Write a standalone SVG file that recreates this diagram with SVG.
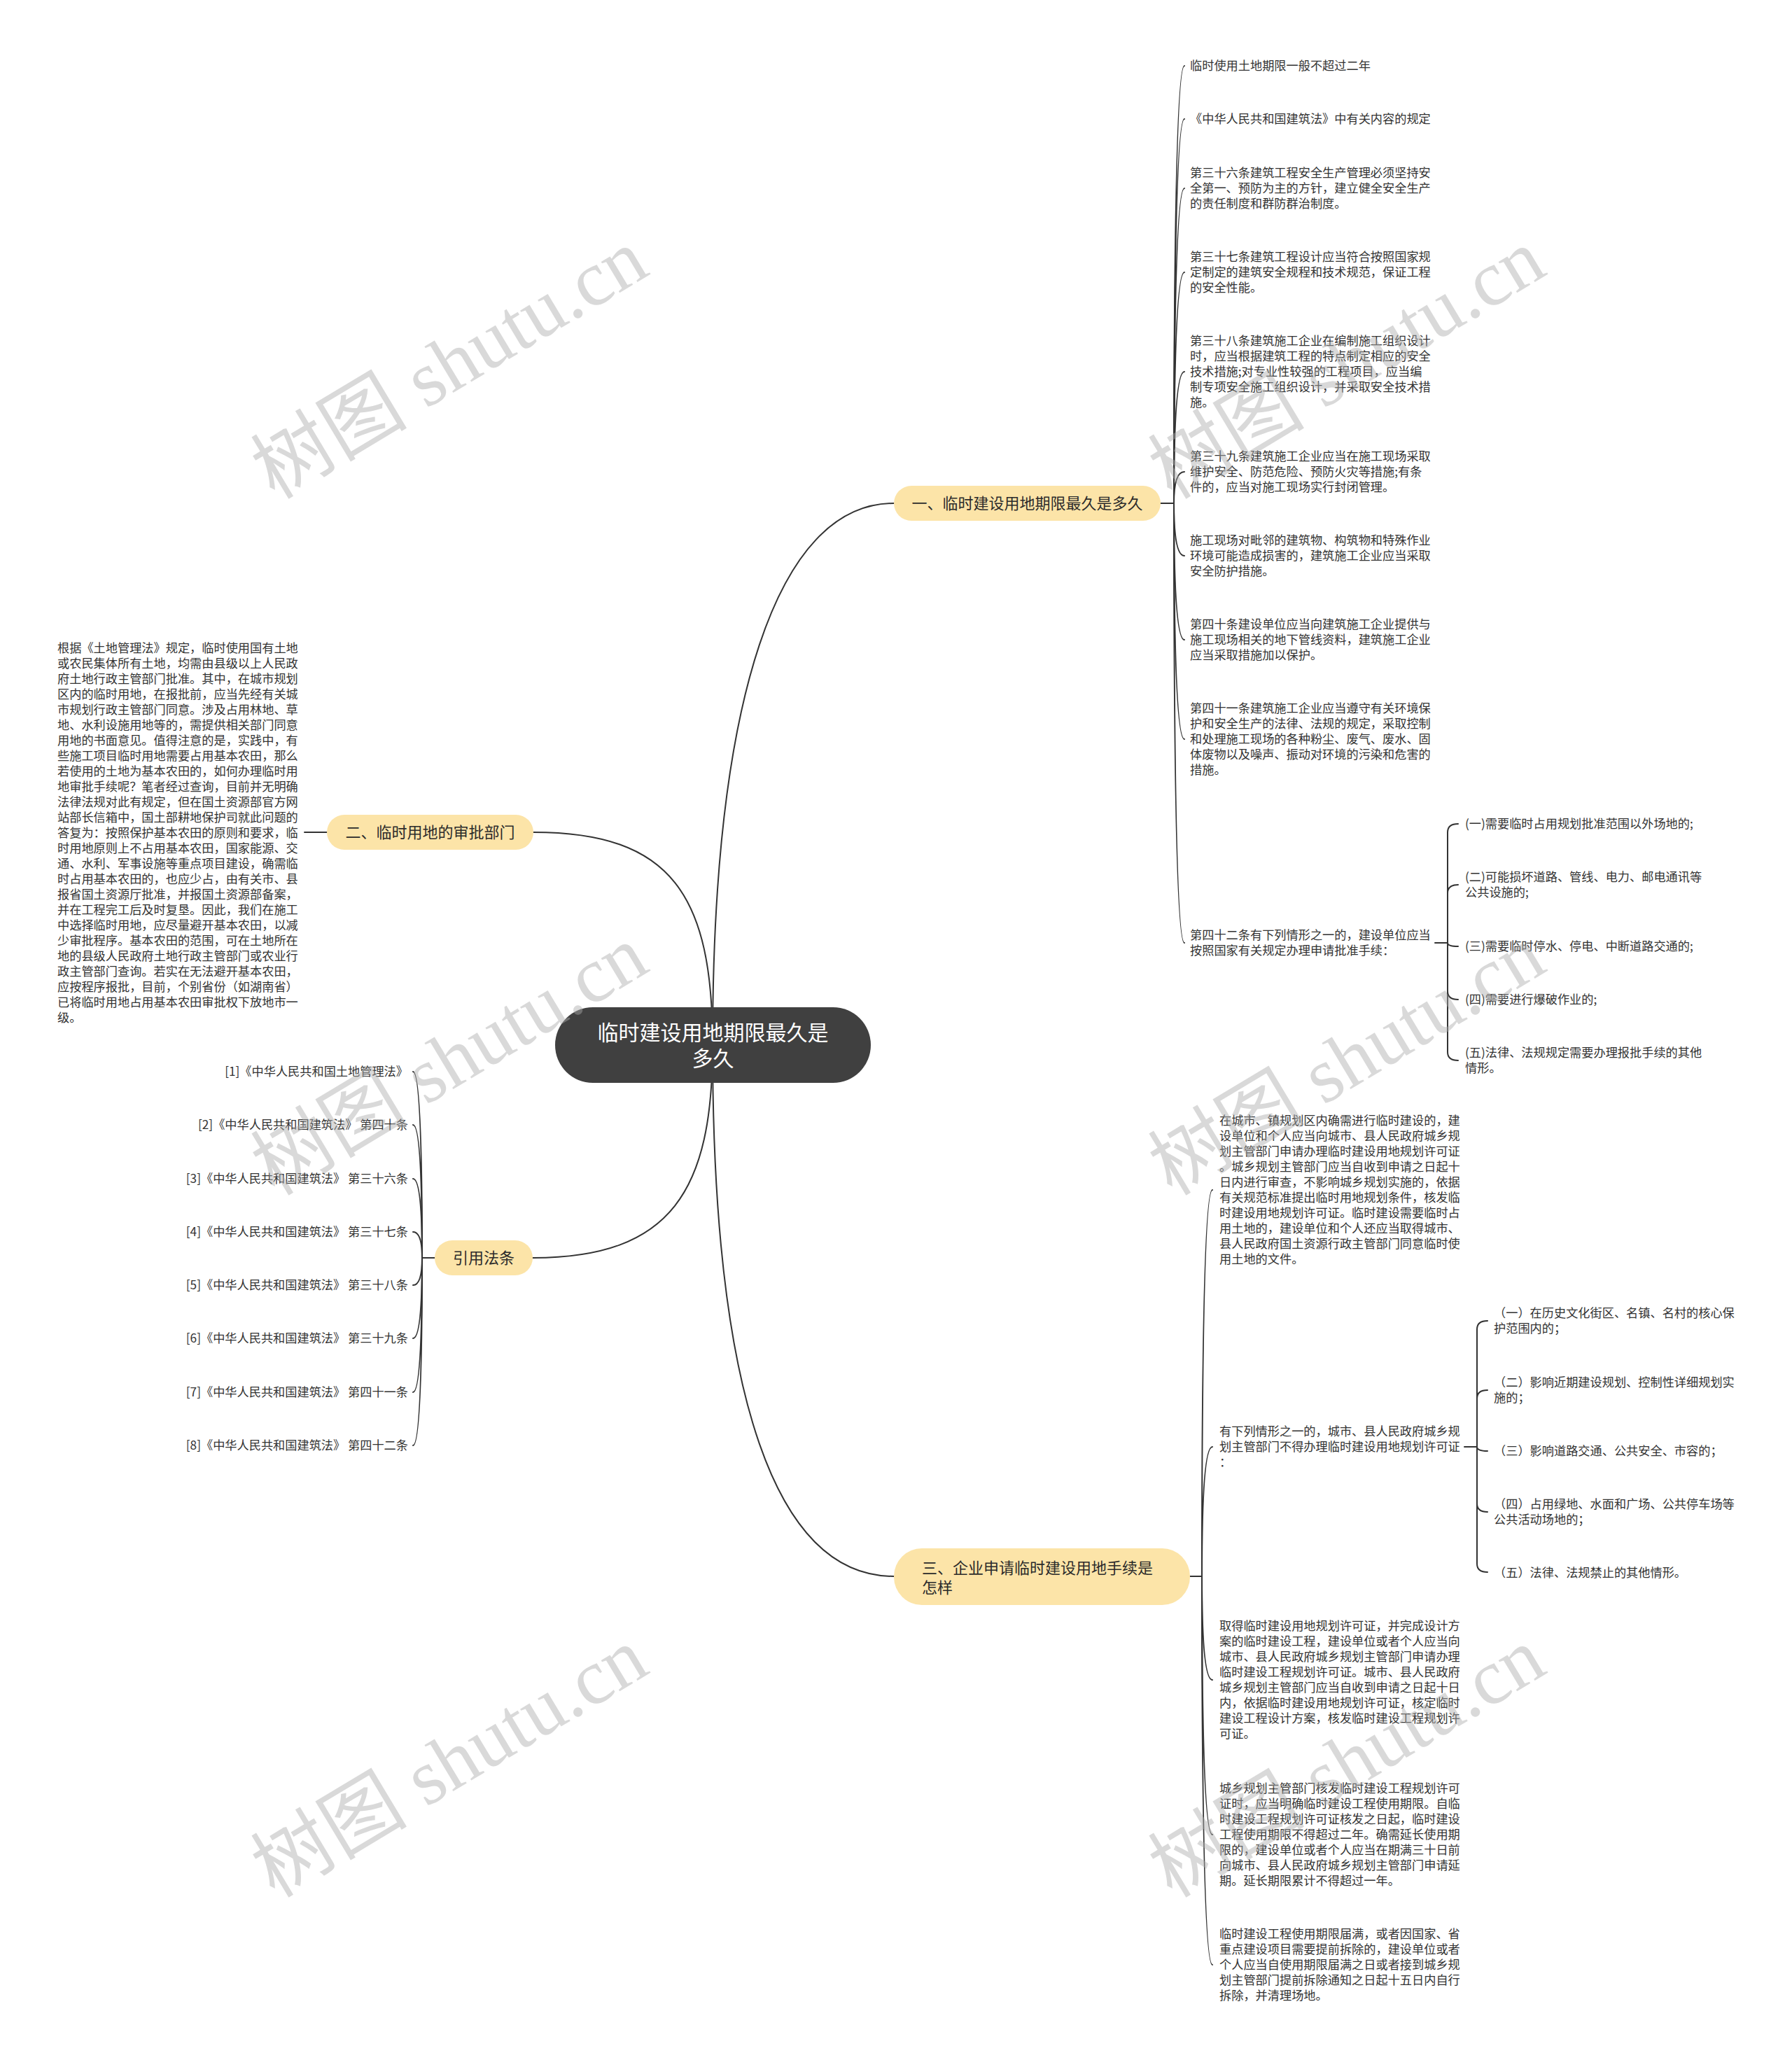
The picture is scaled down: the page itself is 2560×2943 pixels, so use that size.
<svg xmlns="http://www.w3.org/2000/svg" width="2560" height="2943" viewBox="0 0 2560 2943">
<style>
.t{font-family:"Noto Sans CJK SC","Noto Sans",sans-serif;font-size:17.2px;fill:#333}
.b{font-family:"Noto Sans CJK SC","Noto Sans",sans-serif;font-size:22px;fill:#2b2b2b}
.c{font-family:"Noto Sans CJK SC","Noto Sans",sans-serif;font-size:30px;fill:#fff}
.ln{fill:none;stroke:#333;stroke-width:2;stroke-linecap:round}
.nd{fill:#FCE4A8}
.wm{font-family:"Liberation Serif","Noto Sans CJK SC",serif;font-size:112px;fill:#aaa;fill-opacity:0.45}
</style>
<rect width="2560" height="2943" fill="#fff"/>
<g id="connectors">
<path class="ln" d="M1018,1493 C1018,1000 1110,719 1277,719"/>
<path class="ln" d="M1018,1493 C1018,1280 960,1189 762,1189"/>
<path class="ln" d="M1018,1493 C1018,1700 960,1797 761,1797"/>
<path class="ln" d="M1018,1493 C1018,2000 1110,2252 1277,2252"/>
<path class="ln" d="M1658,719 H1677"/>
<path class="ln" d="M1677,719 Q1677,94 1692,94"/>
<path class="ln" d="M1677,719 Q1677,170 1692,170"/>
<path class="ln" d="M1677,719 Q1677,269 1692,269"/>
<path class="ln" d="M1677,719 Q1677,389 1692,389"/>
<path class="ln" d="M1677,719 Q1677,531 1692,531"/>
<path class="ln" d="M1677,719 Q1677,674 1692,674"/>
<path class="ln" d="M1677,719 Q1677,794 1692,794"/>
<path class="ln" d="M1677,719 Q1677,914 1692,914"/>
<path class="ln" d="M1677,719 Q1677,1056 1692,1056"/>
<path class="ln" d="M1677,719 Q1677,1347 1692,1347"/>
<path class="ln" d="M2050,1347 H2068"/>
<path class="ln" d="M2068,1347 V1189 Q2068,1177 2083,1177"/>
<path class="ln" d="M2068,1347 V1276 Q2068,1264 2083,1264"/>
<path class="ln" d="M2068,1347 Q2068,1352 2083,1352"/>
<path class="ln" d="M2068,1347 V1416 Q2068,1428 2083,1428"/>
<path class="ln" d="M2068,1347 V1503 Q2068,1515 2083,1515"/>
<path class="ln" d="M467,1189 H435"/>
<path class="ln" d="M621,1797 H603"/>
<path class="ln" d="M603,1797 Q603,1531 590,1531"/>
<path class="ln" d="M603,1797 Q603,1607 590,1607"/>
<path class="ln" d="M603,1797 Q603,1684 590,1684"/>
<path class="ln" d="M603,1797 Q603,1760 590,1760"/>
<path class="ln" d="M603,1797 Q603,1836 590,1836"/>
<path class="ln" d="M603,1797 Q603,1912 590,1912"/>
<path class="ln" d="M603,1797 Q603,1989 590,1989"/>
<path class="ln" d="M603,1797 Q603,2065 590,2065"/>
<path class="ln" d="M1700,2252 H1717"/>
<path class="ln" d="M1717,2252 Q1717,1700 1732,1700"/>
<path class="ln" d="M1717,2252 Q1717,2067 1732,2067"/>
<path class="ln" d="M1717,2252 Q1717,2400 1732,2400"/>
<path class="ln" d="M1717,2252 Q1717,2621 1732,2621"/>
<path class="ln" d="M1717,2252 Q1717,2807 1732,2807"/>
<path class="ln" d="M2092,2067 H2110"/>
<path class="ln" d="M2110,2067 V1899 Q2110,1887 2125,1887"/>
<path class="ln" d="M2110,2067 V1998 Q2110,1986 2125,1986"/>
<path class="ln" d="M2110,2067 Q2110,2073 2125,2073"/>
<path class="ln" d="M2110,2067 V2148 Q2110,2160 2125,2160"/>
<path class="ln" d="M2110,2067 V2234 Q2110,2246 2125,2246"/>
</g>
<g id="root">
<rect x="793" y="1439" width="451" height="108" rx="54" fill="#404040"/>
<text class="c" text-anchor="middle"><tspan x="1018.5" y="1486">临时建设用地期限最久是</tspan><tspan x="1018.5" y="1523">多久</tspan></text>
</g>
<g id="b1">
<rect class="nd" x="1277" y="694" width="381" height="50" rx="25"/>
<text class="b" x="1467.5" y="727" text-anchor="middle">一、临时建设用地期限最久是多久</text>
</g>
<g id="b2">
<rect class="nd" x="467" y="1164" width="295" height="50" rx="25"/>
<text class="b" x="614.5" y="1197" text-anchor="middle">二、临时用地的审批部门</text>
</g>
<g id="b3">
<rect class="nd" x="621" y="1772" width="140" height="50" rx="25"/>
<text class="b" x="691" y="1805" text-anchor="middle">引用法条</text>
</g>
<g id="b4">
<rect class="nd" x="1277" y="2212" width="423" height="81" rx="40"/>
<text class="b"><tspan x="1317" y="2248">三、企业申请临时建设用地手续是</tspan><tspan x="1317" y="2276">怎样</tspan></text>
</g>
<g id="b1-1"><text class="t" x="1700" y="100">临时使用土地期限一般不超过二年</text></g>
<g id="b1-2"><text class="t" x="1700" y="176">《中华人民共和国建筑法》中有关内容的规定</text></g>
<g id="b1-3"><text class="t"><tspan x="1700" y="253">第三十六条建筑工程安全生产管理必须坚持安</tspan><tspan x="1700" y="275">全第一、预防为主的方针，建立健全安全生产</tspan><tspan x="1700" y="297">的责任制度和群防群治制度。</tspan></text></g>
<g id="b1-4"><text class="t"><tspan x="1700" y="373">第三十七条建筑工程设计应当符合按照国家规</tspan><tspan x="1700" y="395">定制定的建筑安全规程和技术规范，保证工程</tspan><tspan x="1700" y="417">的安全性能。</tspan></text></g>
<g id="b1-5"><text class="t"><tspan x="1700" y="493">第三十八条建筑施工企业在编制施工组织设计</tspan><tspan x="1700" y="515">时，应当根据建筑工程的特点制定相应的安全</tspan><tspan x="1700" y="537">技术措施;对专业性较强的工程项目，应当编</tspan><tspan x="1700" y="559">制专项安全施工组织设计，并采取安全技术措</tspan><tspan x="1700" y="581">施。</tspan></text></g>
<g id="b1-6"><text class="t"><tspan x="1700" y="658">第三十九条建筑施工企业应当在施工现场采取</tspan><tspan x="1700" y="680">维护安全、防范危险、预防火灾等措施;有条</tspan><tspan x="1700" y="702">件的，应当对施工现场实行封闭管理。</tspan></text></g>
<g id="b1-7"><text class="t"><tspan x="1700" y="778">施工现场对毗邻的建筑物、构筑物和特殊作业</tspan><tspan x="1700" y="800">环境可能造成损害的，建筑施工企业应当采取</tspan><tspan x="1700" y="822">安全防护措施。</tspan></text></g>
<g id="b1-8"><text class="t"><tspan x="1700" y="898">第四十条建设单位应当向建筑施工企业提供与</tspan><tspan x="1700" y="920">施工现场相关的地下管线资料，建筑施工企业</tspan><tspan x="1700" y="942">应当采取措施加以保护。</tspan></text></g>
<g id="b1-9"><text class="t"><tspan x="1700" y="1018">第四十一条建筑施工企业应当遵守有关环境保</tspan><tspan x="1700" y="1040">护和安全生产的法律、法规的规定，采取控制</tspan><tspan x="1700" y="1062">和处理施工现场的各种粉尘、废气、废水、固</tspan><tspan x="1700" y="1084">体废物以及噪声、振动对环境的污染和危害的</tspan><tspan x="1700" y="1106">措施。</tspan></text></g>
<g id="b1-10"><text class="t"><tspan x="1700" y="1342">第四十二条有下列情形之一的，建设单位应当</tspan><tspan x="1700" y="1364">按照国家有关规定办理申请批准手续：</tspan></text></g>
<g id="b1-10-1"><text class="t" x="2093" y="1183">(一)需要临时占用规划批准范围以外场地的;</text></g>
<g id="b1-10-2"><text class="t"><tspan x="2093" y="1259">(二)可能损坏道路、管线、电力、邮电通讯等</tspan><tspan x="2093" y="1281">公共设施的;</tspan></text></g>
<g id="b1-10-3"><text class="t" x="2093" y="1358">(三)需要临时停水、停电、中断道路交通的;</text></g>
<g id="b1-10-4"><text class="t" x="2093" y="1434">(四)需要进行爆破作业的;</text></g>
<g id="b1-10-5"><text class="t"><tspan x="2093" y="1510">(五)法律、法规规定需要办理报批手续的其他</tspan><tspan x="2093" y="1532">情形。</tspan></text></g>
<g id="b2-1"><text class="t"><tspan x="82" y="932">根据《土地管理法》规定，临时使用国有土地</tspan><tspan x="82" y="954">或农民集体所有土地，均需由县级以上人民政</tspan><tspan x="82" y="976">府土地行政主管部门批准。其中，在城市规划</tspan><tspan x="82" y="998">区内的临时用地，在报批前，应当先经有关城</tspan><tspan x="82" y="1020">市规划行政主管部门同意。涉及占用林地、草</tspan><tspan x="82" y="1042">地、水利设施用地等的，需提供相关部门同意</tspan><tspan x="82" y="1064">用地的书面意见。值得注意的是，实践中，有</tspan><tspan x="82" y="1086">些施工项目临时用地需要占用基本农田，那么</tspan><tspan x="82" y="1108">若使用的土地为基本农田的，如何办理临时用</tspan><tspan x="82" y="1130">地审批手续呢？笔者经过查询，目前并无明确</tspan><tspan x="82" y="1152">法律法规对此有规定，但在国土资源部官方网</tspan><tspan x="82" y="1174">站部长信箱中，国土部耕地保护司就此问题的</tspan><tspan x="82" y="1196">答复为：按照保护基本农田的原则和要求，临</tspan><tspan x="82" y="1218">时用地原则上不占用基本农田，国家能源、交</tspan><tspan x="82" y="1240">通、水利、军事设施等重点项目建设，确需临</tspan><tspan x="82" y="1262">时占用基本农田的，也应少占，由有关市、县</tspan><tspan x="82" y="1284">报省国土资源厅批准，并报国土资源部备案，</tspan><tspan x="82" y="1306">并在工程完工后及时复垦。因此，我们在施工</tspan><tspan x="82" y="1328">中选择临时用地，应尽量避开基本农田，以减</tspan><tspan x="82" y="1350">少审批程序。基本农田的范围，可在土地所在</tspan><tspan x="82" y="1372">地的县级人民政府土地行政主管部门或农业行</tspan><tspan x="82" y="1394">政主管部门查询。若实在无法避开基本农田，</tspan><tspan x="82" y="1416">应按程序报批，目前，个别省份（如湖南省）</tspan><tspan x="82" y="1438">已将临时用地占用基本农田审批权下放地市一</tspan><tspan x="82" y="1460">级。</tspan></text></g>
<g id="b3-items" text-anchor="end">
<g id="b3-1"><text class="t" x="583" y="1537">[1]《中华人民共和国土地管理法》</text></g>
<g id="b3-2"><text class="t" x="583" y="1613">[2]《中华人民共和国建筑法》 第四十条</text></g>
<g id="b3-3"><text class="t" x="583" y="1690">[3]《中华人民共和国建筑法》 第三十六条</text></g>
<g id="b3-4"><text class="t" x="583" y="1766">[4]《中华人民共和国建筑法》 第三十七条</text></g>
<g id="b3-5"><text class="t" x="583" y="1842">[5]《中华人民共和国建筑法》 第三十八条</text></g>
<g id="b3-6"><text class="t" x="583" y="1918">[6]《中华人民共和国建筑法》 第三十九条</text></g>
<g id="b3-7"><text class="t" x="583" y="1995">[7]《中华人民共和国建筑法》 第四十一条</text></g>
<g id="b3-8"><text class="t" x="583" y="2071">[8]《中华人民共和国建筑法》 第四十二条</text></g>
</g>
<g id="b4-1"><text class="t"><tspan x="1742" y="1607">在城市、镇规划区内确需进行临时建设的，建</tspan><tspan x="1742" y="1629">设单位和个人应当向城市、县人民政府城乡规</tspan><tspan x="1742" y="1651">划主管部门申请办理临时建设用地规划许可证</tspan><tspan x="1742" y="1673">。城乡规划主管部门应当自收到申请之日起十</tspan><tspan x="1742" y="1695">日内进行审查，不影响城乡规划实施的，依据</tspan><tspan x="1742" y="1717">有关规范标准提出临时用地规划条件，核发临</tspan><tspan x="1742" y="1739">时建设用地规划许可证。临时建设需要临时占</tspan><tspan x="1742" y="1761">用土地的，建设单位和个人还应当取得城市、</tspan><tspan x="1742" y="1783">县人民政府国土资源行政主管部门同意临时使</tspan><tspan x="1742" y="1805">用土地的文件。</tspan></text></g>
<g id="b4-2"><text class="t"><tspan x="1742" y="2051">有下列情形之一的，城市、县人民政府城乡规</tspan><tspan x="1742" y="2073">划主管部门不得办理临时建设用地规划许可证</tspan><tspan x="1742" y="2095">：</tspan></text></g>
<g id="b4-2-1"><text class="t"><tspan x="2134" y="1882">（一）在历史文化街区、名镇、名村的核心保</tspan><tspan x="2134" y="1904">护范围内的；</tspan></text></g>
<g id="b4-2-2"><text class="t"><tspan x="2134" y="1981">（二）影响近期建设规划、控制性详细规划实</tspan><tspan x="2134" y="2003">施的；</tspan></text></g>
<g id="b4-2-3"><text class="t" x="2134" y="2079">（三）影响道路交通、公共安全、市容的；</text></g>
<g id="b4-2-4"><text class="t"><tspan x="2134" y="2155">（四）占用绿地、水面和广场、公共停车场等</tspan><tspan x="2134" y="2177">公共活动场地的；</tspan></text></g>
<g id="b4-2-5"><text class="t" x="2134" y="2253">（五）法律、法规禁止的其他情形。</text></g>
<g id="b4-3"><text class="t"><tspan x="1742" y="2329">取得临时建设用地规划许可证，并完成设计方</tspan><tspan x="1742" y="2351">案的临时建设工程，建设单位或者个人应当向</tspan><tspan x="1742" y="2373">城市、县人民政府城乡规划主管部门申请办理</tspan><tspan x="1742" y="2395">临时建设工程规划许可证。城市、县人民政府</tspan><tspan x="1742" y="2417">城乡规划主管部门应当自收到申请之日起十日</tspan><tspan x="1742" y="2439">内，依据临时建设用地规划许可证，核定临时</tspan><tspan x="1742" y="2461">建设工程设计方案，核发临时建设工程规划许</tspan><tspan x="1742" y="2483">可证。</tspan></text></g>
<g id="b4-4"><text class="t"><tspan x="1742" y="2561">城乡规划主管部门核发临时建设工程规划许可</tspan><tspan x="1742" y="2583">证时，应当明确临时建设工程使用期限。自临</tspan><tspan x="1742" y="2605">时建设工程规划许可证核发之日起，临时建设</tspan><tspan x="1742" y="2627">工程使用期限不得超过二年。确需延长使用期</tspan><tspan x="1742" y="2649">限的，建设单位或者个人应当在期满三十日前</tspan><tspan x="1742" y="2671">向城市、县人民政府城乡规划主管部门申请延</tspan><tspan x="1742" y="2693">期。延长期限累计不得超过一年。</tspan></text></g>
<g id="b4-5"><text class="t"><tspan x="1742" y="2769">临时建设工程使用期限届满，或者因国家、省</tspan><tspan x="1742" y="2791">重点建设项目需要提前拆除的，建设单位或者</tspan><tspan x="1742" y="2813">个人应当自使用期限届满之日或者接到城乡规</tspan><tspan x="1742" y="2835">划主管部门提前拆除通知之日起十五日内自行</tspan><tspan x="1742" y="2857">拆除，并清理场地。</tspan></text></g>
<g id="watermarks" class="wm" text-anchor="middle">
<text transform="translate(642,520) rotate(-31)" y="38">树图 shutu.cn</text>
<text transform="translate(1924,520) rotate(-31)" y="38">树图 shutu.cn</text>
<text transform="translate(642,1515) rotate(-31)" y="38">树图 shutu.cn</text>
<text transform="translate(1924,1515) rotate(-31)" y="38">树图 shutu.cn</text>
<text transform="translate(642,2518) rotate(-31)" y="38">树图 shutu.cn</text>
<text transform="translate(1924,2518) rotate(-31)" y="38">树图 shutu.cn</text>
</g>
</svg>
